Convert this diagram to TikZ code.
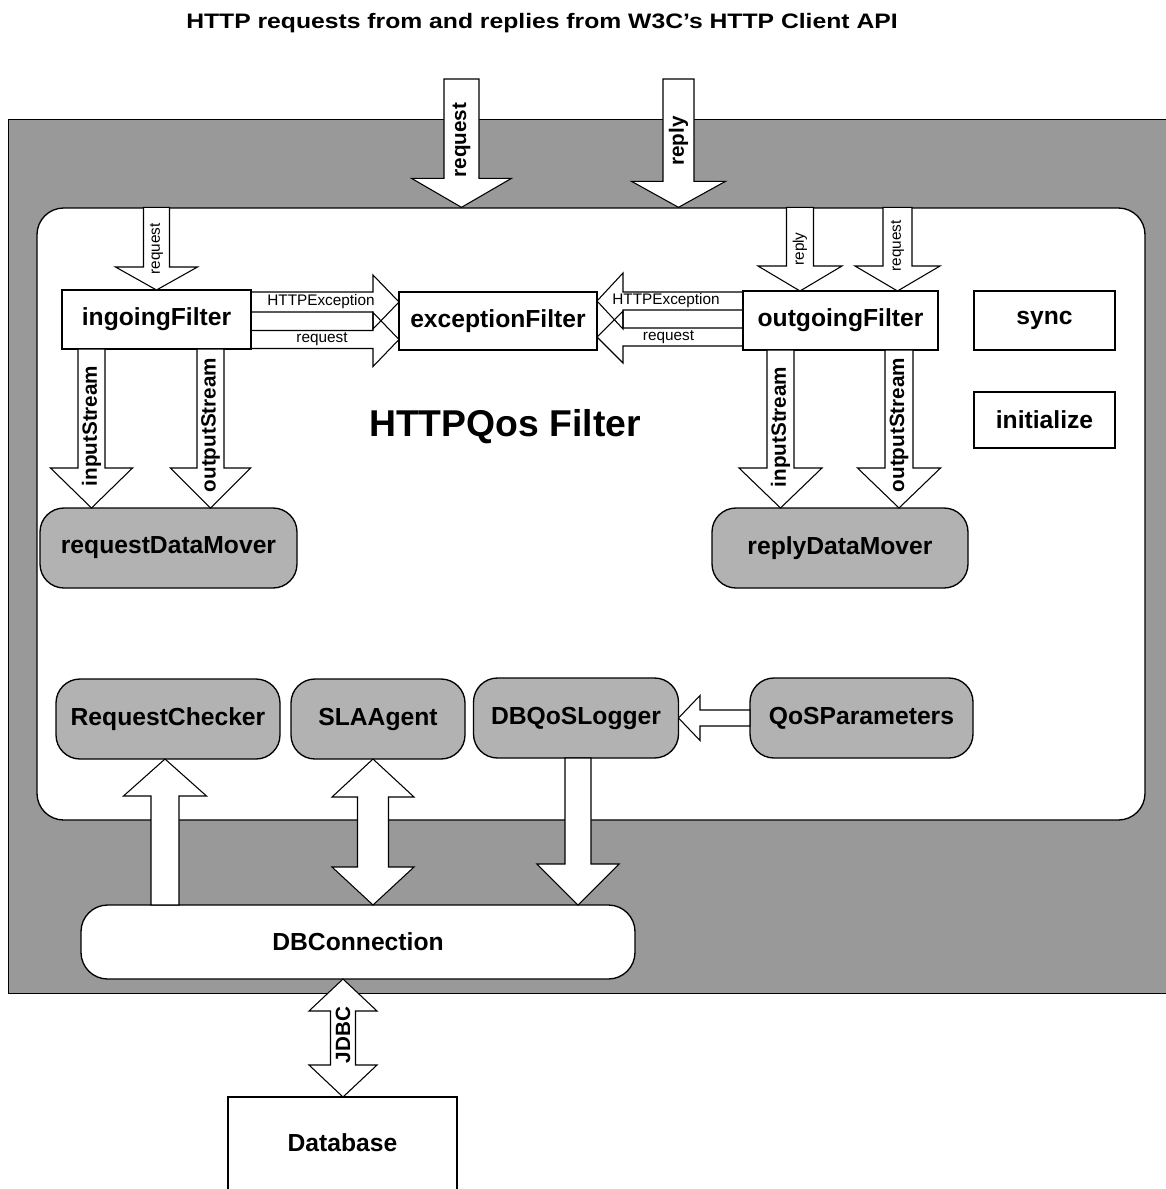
\documentclass[tikz,border=0pt]{standalone}
\usepackage{fontspec}
\setmainfont{Liberation Sans}
\usetikzlibrary{calc}

\definecolor{bandgray}{RGB}{153,153,153}
\definecolor{nodegray}{RGB}{178,178,178}

% Block arrows: [options]{start}{tip}{shaft half-width}{head half-width}{head length}, sizes in px
\newcommand\blkdown[6][]{%
  \draw[blk,#1] let \p1=(#2), \p2=(#3) in
    (\x2-#4*0.75pt,\y1) -- (\x2-#4*0.75pt,\y2+#6*0.75pt) -- (\x2-#5*0.75pt,\y2+#6*0.75pt)
    -- (\x2,\y2) -- (\x2+#5*0.75pt,\y2+#6*0.75pt) -- (\x2+#4*0.75pt,\y2+#6*0.75pt)
    -- (\x2+#4*0.75pt,\y1) -- cycle;}
\newcommand\blkup[6][]{%
  \draw[blk,#1] let \p1=(#2), \p2=(#3) in
    (\x2-#4*0.75pt,\y1) -- (\x2-#4*0.75pt,\y2-#6*0.75pt) -- (\x2-#5*0.75pt,\y2-#6*0.75pt)
    -- (\x2,\y2) -- (\x2+#5*0.75pt,\y2-#6*0.75pt) -- (\x2+#4*0.75pt,\y2-#6*0.75pt)
    -- (\x2+#4*0.75pt,\y1) -- cycle;}
\newcommand\blkleft[6][]{%
  \draw[blk,#1] let \p1=(#2), \p2=(#3) in
    (\x1,\y2+#4*0.75pt) -- (\x2+#6*0.75pt,\y2+#4*0.75pt) -- (\x2+#6*0.75pt,\y2+#5*0.75pt)
    -- (\x2,\y2) -- (\x2+#6*0.75pt,\y2-#5*0.75pt) -- (\x2+#6*0.75pt,\y2-#4*0.75pt)
    -- (\x1,\y2-#4*0.75pt) -- cycle;}
\newcommand\blkright[6][]{%
  \draw[blk,#1] let \p1=(#2), \p2=(#3) in
    (\x1,\y2+#4*0.75pt) -- (\x2-#6*0.75pt,\y2+#4*0.75pt) -- (\x2-#6*0.75pt,\y2+#5*0.75pt)
    -- (\x2,\y2) -- (\x2-#6*0.75pt,\y2-#5*0.75pt) -- (\x2-#6*0.75pt,\y2-#4*0.75pt)
    -- (\x1,\y2-#4*0.75pt) -- cycle;}
% double-headed vertical arrow: {upper tip}{lower tip}{shaft}{head}{length}
\newcommand\blkdbl[6][]{%
  \draw[blk,#1] let \p1=(#2), \p2=(#3) in
    (\x1,\y1) -- (\x1+#5*0.75pt,\y1-#6*0.75pt) -- (\x1+#4*0.75pt,\y1-#6*0.75pt)
    -- (\x1+#4*0.75pt,\y2+#6*0.75pt) -- (\x1+#5*0.75pt,\y2+#6*0.75pt) -- (\x1,\y2)
    -- (\x1-#5*0.75pt,\y2+#6*0.75pt) -- (\x1-#4*0.75pt,\y2+#6*0.75pt)
    -- (\x1-#4*0.75pt,\y1-#6*0.75pt) -- (\x1-#5*0.75pt,\y1-#6*0.75pt) -- cycle;}

\begin{document}
\begin{tikzpicture}[x=0.75pt,y=-0.75pt,
  wh/.style 2 args={minimum width=#1*0.75pt, minimum height=#2*0.75pt},
  box/.style={draw, fill=white, line width=1pt, inner sep=0pt, outer sep=0pt,
    font=\fontsize{18.5}{20}\selectfont\bfseries},
  gbox/.style={box, fill=nodegray, rounded corners=18pt},
  blk/.style={draw, fill=white, line width=0.8pt, line join=miter},
  open/.style={fill=none},
  vlab/.style={rotate=90, inner sep=0pt, font=\fontsize{15.5}{16}\selectfont\bfseries},
  slab/.style={inner sep=0pt, font=\fontsize{11.5}{12}\selectfont},
  svlab/.style={slab, rotate=90}]

\useasboundingbox (0,0) rectangle (1165,1189);

% frame and filter panel
\node[draw, fill=bandgray, line width=1pt, wh={1180}{874}, anchor=north west] (frame) at (8,119) {};
\node[draw, fill=white, line width=1pt, rounded corners=20pt, wh={1108}{612}] (panel) at (591,514) {};

\node[inner sep=0pt, anchor=base, font=\fontsize{15.7}{17}\selectfont\bfseries] (title) at (542,28)
  {\scalebox{1.18}[1]{HTTP requests from and replies from W3C's HTTP Client API}};

\node[inner sep=0pt, font=\fontsize{28}{30}\selectfont\bfseries] (qosname) at (505,427) {HTTPQos Filter};

% filters and helpers
\node[box, wh={189}{59}] (ingoing) at (156.5,319.5) {ingoingFilter};
\node[box, wh={198}{58}] (exception) at (498,321) {exceptionFilter};
\node[box, wh={195}{59}] (outgoing) at (840.5,320.5) {outgoingFilter};
\node[box, wh={141}{59}] (sync) at (1044.5,320.5) {sync};
\node[box, wh={141}{56}] (init) at (1044.5,420) {initialize};

\node[gbox, wh={257}{80}] (reqmover) at (168.5,548) {requestDataMover};
\node[gbox, wh={256}{80}] (repmover) at (840,548) {replyDataMover};

\node[gbox, wh={224}{80}] (checker) at (168,719) {RequestChecker};
\node[gbox, wh={174}{80}] (sla) at (378,719) {SLAAgent};
\node[gbox, wh={205}{80}] (logger) at (576,718) {DBQoSLogger};
\node[gbox, wh={223}{80}] (qospar) at (861.5,718) {QoSParameters};

\node[box, rounded corners=20pt, wh={554}{74}] (dbconn) at (358,942) {DBConnection};
\node[box, draw=none, fill=none, wh={229}{92}] (database) at (342.5,1143) {Database};
\draw[line width=1pt] (database.south west) -- (database.north west)
  -- (database.north east) -- (database.south east);

% incoming request / reply from the client API
\coordinate (apireq) at (461.5,79);
\coordinate (apirep) at (678.5,79);
\blkdown{apireq}{apireq |- panel.north}{17.5}{50}{29}
\blkdown{apirep}{apirep |- panel.north}{15.5}{47}{26}
\node[vlab] (lbapireq) at (461.5,140) {request};
\node[vlab] (lbapirep) at (678.5,141) {reply};

% into the filters
\blkdown{156.5,0 |- panel.north}{ingoing.north}{13}{41}{23}
\blkdown{800,0 |- panel.north}{800,0 |- outgoing.north}{13.5}{42}{25}
\blkdown{897.5,0 |- panel.north}{897.5,0 |- outgoing.north}{14.5}{42.5}{25}
\node[svlab] (lbinreq) at (156.5,249) {request};
\node[svlab] (lboutrep) at (800,249) {reply};
\node[svlab] (lboutreq) at (897.5,246) {request};

% filters to exceptionFilter
\blkright[open]{ingoing.east |- 0,302}{exception.west |- 0,302}{10}{27}{26}
\blkright[open]{ingoing.east |- 0,339.5}{exception.west |- 0,339.5}{9}{27}{26}
\blkleft[open]{outgoing.west |- 0,301}{exception.east |- 0,301}{9}{28}{26}
\blkleft[open]{outgoing.west |- 0,337}{exception.east |- 0,337}{9}{26}{26}
\node[slab] (lbexl) at (321,302) {HTTPException};
\node[slab] (lbreql) at (322,339.5) {request};
\node[slab] (lbexr) at (666,301) {HTTPException};
\node[slab] (lbreqr) at (668.5,337) {request};

% streams to the data movers
\blkdown{91.5,0 |- ingoing.south}{91.5,0 |- reqmover.north}{13.5}{41}{40}
\blkdown{210.5,0 |- ingoing.south}{210.5,0 |- reqmover.north}{13.5}{40}{40}
\blkdown{780.5,0 |- outgoing.south}{780.5,0 |- repmover.north}{13.5}{41.5}{40}
\blkdown{899,0 |- outgoing.south}{899,0 |- repmover.north}{14}{41.5}{40}
\node[vlab] (lbins1) at (91.5,426) {inputStream};
\node[vlab] (lbouts1) at (210.5,425) {outputStream};
\node[vlab] (lbins2) at (780.5,427) {inputStream};
\node[vlab] (lbouts2) at (899,425) {outputStream};

% database side
\blkleft{qospar.west}{logger.east}{8}{22.5}{21.5}
\blkup{165,0 |- dbconn.north}{165,0 |- checker.south}{14}{41.5}{37}
\blkdbl{373,0 |- sla.south}{373,0 |- dbconn.north}{15.5}{41}{38}
\blkdown{578,0 |- logger.south}{578,0 |- dbconn.north}{13}{41}{41}
\blkdbl{343,0 |- dbconn.south}{343,0 |- database.north}{12.5}{34}{32}
\node[vlab] (lbjdbc) at (343,1035) {JDBC};

\end{tikzpicture}
\end{document}
